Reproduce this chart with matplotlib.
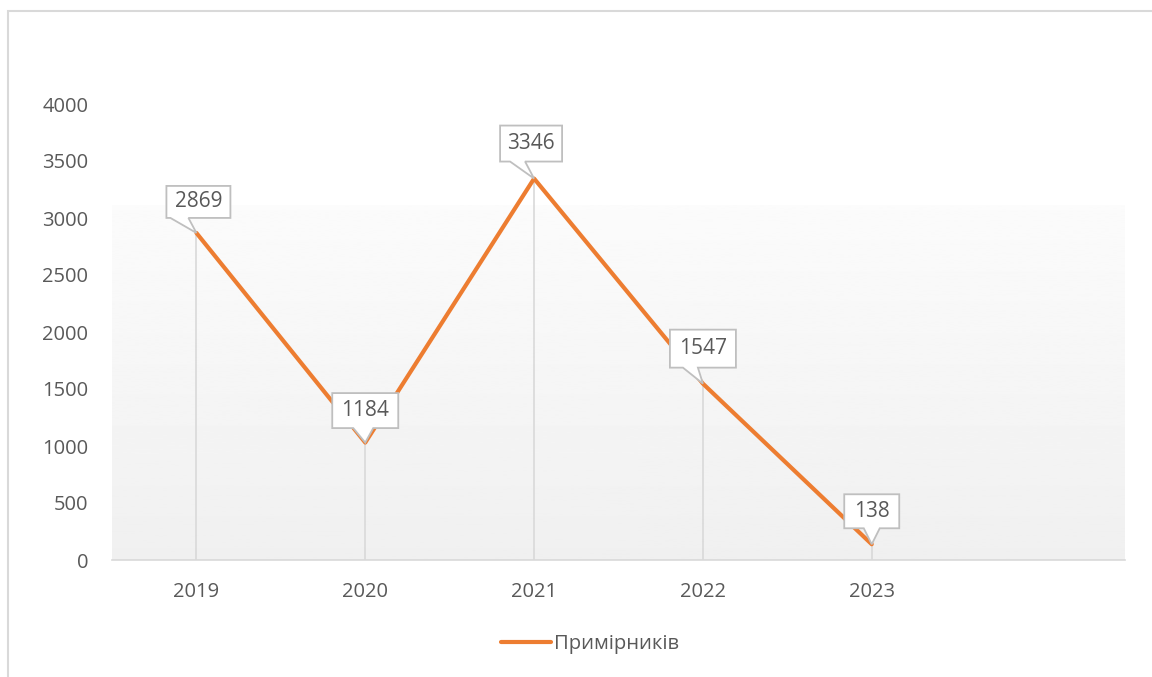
import numpy as np
import matplotlib
matplotlib.use("Agg")
import matplotlib.pyplot as plt
from matplotlib.patches import Polygon, Rectangle
from matplotlib.transforms import IdentityTransform

plt.rcParams['font.family'] = ['Open Sans', 'DejaVu Sans']

years = ['2019', '2020', '2021', '2022', '2023', '']
values = [2869, 1030, 3346, 1547, 138]
labels = ['2869', '1184', '3346', '1547', '138']
series_name = 'Примірників'

orange = '#ED7D31'
grey_txt = '#595959'
grey_ln = '#d9d9d9'

fig = plt.figure(figsize=(11.52, 6.77), dpi=100)
W, H = 1152, 677

# outer chart border
fig.patches.append(Rectangle((8 / W, -0.05), 1.2, (677 - 11) / H + 0.05,
                             transform=fig.transFigure, fill=False,
                             edgecolor='#d9d9d9', lw=1.5))

ax = fig.add_axes([112 / W, (677 - 560) / H, (1125 - 112) / W, (560 - 104) / H])
ax.set_xlim(-0.5, len(years) - 0.5)
ax.set_ylim(0, 4000)
ax.patch.set_alpha(0)

# gradient fill in plot area
grad = np.linspace(0.94, 0.985, 256).reshape(-1, 1)
ax.imshow(grad, cmap='gray', vmin=0, vmax=1, aspect='auto', origin='lower',
          extent=(-0.5, len(years) - 0.5, 0, 3110), zorder=0)

x = np.arange(len(values))
ax.vlines(x, 0, values, color=grey_ln, lw=1.2, zorder=1)
ax.plot(x, values, color=orange, lw=3, solid_capstyle='round', zorder=3,
        label=series_name)

ax.set_xticks(np.arange(len(years)))
ax.set_xticklabels(years)
ax.set_yticks(np.arange(0, 4001, 500))
ax.tick_params(axis='both', length=0, labelsize=14.5, colors=grey_txt)
ax.tick_params(axis='x', pad=16)
ax.tick_params(axis='y', pad=17)
for s in ['top', 'right', 'left']:
    ax.spines[s].set_visible(False)
ax.spines['bottom'].set_color(grey_ln)
ax.spines['bottom'].set_linewidth(1.2)

# callout boxes: (dx, dy, w, h, base_left, base_right) in pixels from point
callouts = [
    (2, 31, 64, 32, -28, -10),
    (0, 32, 66, 35, -12, 8),
    (-3, 35, 62, 36, -21, -6),
    (0, 35, 66, 38, -20, -5),
    (0, 33, 55, 34, -8, 8),
]
fig.canvas.draw()
for xi, v, lab, (dx, dy, w, h, b1, b2) in zip(x, values, labels, callouts):
    px, py = ax.transData.transform((xi, v))
    cx, cy = px + dx, py + dy
    verts = [(cx - w / 2, cy + h / 2), (cx + w / 2, cy + h / 2),
             (cx + w / 2, cy - h / 2), (cx + b2, cy - h / 2),
             (px, py), (cx + b1, cy - h / 2), (cx - w / 2, cy - h / 2)]
    fig.patches.append(Polygon(verts, closed=True, transform=IdentityTransform(),
                               facecolor='white', edgecolor='#bfbfbf', lw=1.3,
                               zorder=5))
    fig.text(cx / W, cy / H, lab, ha='center', va='center', fontsize=15,
             color=grey_txt, zorder=6)

fig.legend(loc='center', bbox_to_anchor=(590 / W, 1 - 644 / H), frameon=False,
           fontsize=14.5, labelcolor=grey_txt, handlelength=2.5,
           handletextpad=0.15)

fig.savefig('out.png', dpi=100)
